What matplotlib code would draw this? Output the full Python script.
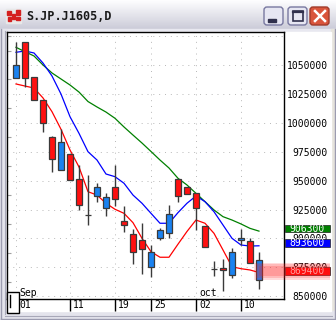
import numpy as np
import matplotlib
matplotlib.use("Agg")
from matplotlib import pyplot as plt
from matplotlib.patches import Rectangle, FancyBboxPatch
from matplotlib.ticker import MultipleLocator
import matplotlib.transforms as mtransforms

title = "S.JP.J1605,D"

# daily bars (Sep 01 .. Oct 12)
opens = [1039000, 1069600, 1039400, 1019700, 987700, 958900, 972700, 951100,
         920200, 936900, 926000, 944200, 914700, 903600, 898400, 875000,
         900100, 904400, 951100, 944200, 939000, 910700, 873300, 874400,
         868100, 898400, 897500, 864000]
highs = [1069600, 1070000, 1039800, 1019700, 988300, 994400, 972700, 963500,
         954800, 947700, 939500, 963500, 928000, 907900, 913600, 894000,
         908700, 928900, 951100, 944200, 939000, 910700, 880700, 881900,
         891400, 907900, 900100, 888500]
lows = [1039000, 1031200, 1019500, 992300, 957200, 958900, 950200, 924600,
        911600, 931800, 919600, 928300, 905800, 877600, 869000, 866900,
        898600, 900100, 931200, 938200, 907300, 892300, 867400, 854800,
        865500, 894000, 878500, 856000]
closes = [1050000, 1039000, 1019500, 999600, 968400, 983100, 950200, 928600,
          920200, 944200, 935800, 934300, 911200, 888300, 891100, 888300,
          907000, 921100, 936900, 938200, 926600, 892300, 873300, 872700,
          888000, 900600, 878500, 881300]

# moving averages
ma_red = [1033600, 1031800, 1030100, 1021500, 1009600, 994400, 976500, 961800,
          940400, 937500, 930400, 925200, 921700, 913600, 900100, 888500,
          883700, 883700, 895000, 906000, 915900, 913100, 904400, 890000,
          875500, 873800, 872700, 870500]
ma_blue = [1061000, 1062100, 1060400, 1051700, 1040500, 1024900, 1005300, 990900,
           975000, 967800, 955700, 953400, 947700, 937500, 930400, 921700,
           913100, 913100, 922300, 930400, 936700, 931800, 923100, 911600,
           900100, 894300, 893400, 893600]
ma_green = [1065300, 1061500, 1057800, 1050000, 1043100, 1037900, 1032700, 1026600,
            1018400, 1013700, 1009300, 1003900, 996400, 989400, 982500, 975200,
            967800, 960900, 952000, 946200, 939000, 931800, 924600, 918800,
            915900, 912500, 908700, 906300]
tag_values = [906300, 893600, 869400]
tag_colors = ["#008000", "#0000ff", "#ff0000"]

tick_pos = [0, 6, 11, 15, 20, 25]
tick_labels = ["01", "11", "19", "25", "02", "10"]
month_pos = [0, 20]
month_labels = ["Sep", "oct"]
price_ticks = list(range(850000, 1050001, 25000))
grid_levels = list(range(850000, 1075001, 25000))

W, H = 336, 320
fig = plt.figure(figsize=(W / 100, H / 100), dpi=100)

# ---- window chrome ----
bg = fig.add_axes([0, 0, 1, 1], zorder=0)
bg.axis("off")
bg.add_patch(Rectangle((0, 0), W, H, color="#dcdce6"))
g = np.linspace(0, 1, 30)[:, None, None]
c_top = np.array([0.995, 0.995, 1.0])
c_bot = np.array([0.80, 0.80, 0.85])
bg.imshow(c_top + (c_bot - c_top) * g * np.ones((1, 2, 1)), extent=(0, W, 29, 0),
          aspect="auto", zorder=1, interpolation="bilinear")
bg.add_patch(Rectangle((0, 29), W, 3, color="#e8e8f0", zorder=2))
bg.add_patch(Rectangle((0, 29), 7, H, color="#e4e4ec", zorder=2))
bg.add_patch(Rectangle((331, 29), 5, H, color="#e6e3dc", zorder=2))
bg.add_patch(Rectangle((0, 311), W, 9, color="#e4e4ec", zorder=2))
bg.plot([1, 1], [29, 319], color="#9c9cb0", lw=1, zorder=3)
bg.plot([4.5, 4.5], [31, 314], color="#a8a8b8", lw=0.8, zorder=3)
bg.plot([335, 335], [29, 319], color="#9c9cb0", lw=1, zorder=3)
bg.plot([1, 335], [318.5, 318.5], color="#9c9cb0", lw=1, zorder=3)
bg.plot([4.5, 332], [315.5, 315.5], color="#a8a8b8", lw=0.8, zorder=3)
bg.add_patch(Rectangle((7, 32), 324, 279, color="white", zorder=3))

# icon
bg.add_patch(Rectangle((6, 9), 15, 14, color="#e8e8e8", zorder=4))
for (ix, iy, iw, ih) in [(7, 11, 4, 4), (12, 14, 3, 5), (16, 10, 4, 5), (8, 17, 3, 4), (16, 17, 4, 3)]:
    bg.add_patch(Rectangle((ix, iy), iw, ih, color="#d42020", zorder=5))
bg.text(26, 16.5, title, fontsize=8.5, family="DejaVu Sans Mono", fontweight="bold",
        color="#1a1a1a", va="center", ha="left", zorder=5)

# buttons
for bx, fc, ec in [(263, "#e6e6f2", "#7878a0"), (287, "#e6e6f2", "#7878a0"), (309, "#d9553c", "#a03a2a")]:
    bg.add_patch(FancyBboxPatch((bx + 1, 7), 19, 18, boxstyle="round,pad=0,rounding_size=3",
                                fc=fc, ec=ec, lw=1, zorder=5))
bg.add_patch(Rectangle((268, 19), 8, 2.5, color="#30304c", zorder=6))
bg.add_patch(Rectangle((292.5, 11), 10, 10, fill=False, ec="#30304c", lw=1.2, zorder=6))
bg.plot([292.5, 302.5], [11.8, 11.8], color="#30304c", lw=1.6, zorder=6)
bg.plot([315, 325], [11, 21], color="white", lw=1.8, zorder=6)
bg.plot([315, 325], [21, 11], color="white", lw=1.8, zorder=6)
bg.set_xlim(0, W)
bg.set_ylim(H, 0)

# ---- price chart ----
ax = fig.add_axes([7 / W, (H - 299) / H, 277 / W, 267 / H], zorder=2)
ax.set_facecolor("white")
x = np.arange(len(opens))
o = np.array(opens); c = np.array(closes)

for lvl in grid_levels:
    ax.axhline(lvl, color="#b8b8b8", lw=0.7, ls=(0, (1, 5)), zorder=0)
for p in tick_pos:
    ax.axvline(p, color="#b8b8b8", lw=0.7, ls=(0, (1, 5)), zorder=0)

ax.plot(x, ma_green, color="#008000", lw=0.9, zorder=2)
ax.plot(x, ma_blue, color="#0000ff", lw=0.9, zorder=2)
ax.plot(x, ma_red, color="#ff0000", lw=0.9, zorder=2)

ax.vlines(x, lows, highs, color="#3a3a3a", lw=1.0, zorder=3)
body_col = np.where(c > o, "#1a82f0", np.where(c < o, "#ff1010", "#3a3a3a"))
ax.bar(x, np.abs(c - o), bottom=np.minimum(o, c), width=0.58, color=body_col,
       edgecolor="#3a3a3a", linewidth=0.9, zorder=4)

ax.set_xlim(-1.0, 29.78)
ax.set_ylim(847580, 1078550)
for s in ax.spines.values():
    s.set_color("black")
    s.set_linewidth(1.0)

ax.set_xticks([])
ax.set_yticks(price_ticks)
ax.set_yticklabels([str(v) for v in price_ticks])
ax.tick_params(axis="y", which="major", left=False, right=True, labelleft=False,
               labelright=True, length=0, pad=31.7, labelsize=7)
for lab in ax.get_yticklabels():
    lab.set_horizontalalignment("right")
    lab.set_family("DejaVu Sans Mono")
ax.yaxis.set_minor_locator(MultipleLocator(12500))
ax.tick_params(axis="y", which="minor", left=True, right=False, direction="in",
               length=3, color="#a0a0a0", width=0.8)

# x ticks below the axis, labels to the right of each tick
xt = ax.get_xaxis_transform()
ax.vlines(tick_pos, -12 / 267, 0, transform=xt, color="black", lw=1, clip_on=False)
lab_tr = mtransforms.offset_copy(xt, fig=fig, x=3, y=0, units="dots")
for p, t in zip(tick_pos, tick_labels):
    ax.text(p, -6 / 267, t, transform=lab_tr, ha="left", va="center", fontsize=7,
            family="DejaVu Sans Mono", color="black", clip_on=False)
mon_tr = mtransforms.offset_copy(xt, fig=fig, x=3, y=1, units="dots")
for p, t in zip(month_pos, month_labels):
    ax.text(p, 0, t, transform=mon_tr, ha="left", va="bottom", fontsize=7,
            family="DejaVu Sans Mono", color="black")

# last-value tags on the price scale
yt = ax.get_yaxis_transform()
box_h = 7.8 / 1.156 * 1000
for v, col in zip(tag_values, tag_colors):
    yc = v + 2200
    ax.add_patch(Rectangle((1.002, yc - box_h / 2), 0.163, box_h, transform=yt,
                           fc=col, ec="#202020", lw=0.5, clip_on=False, zorder=10))
    ax.text(1.0835, yc, str(v), transform=yt, ha="center", va="center", fontsize=7,
            family="DejaVu Sans Mono", color="white", clip_on=False, zorder=11)

# glow behind the red tag
gy = tag_values[2] + 2200
for x0, hpx, a in [(0.890, 17, 0.16), (0.900, 14, 0.18), (0.910, 10, 0.2)]:
    hh = hpx / 1.156 * 1000
    ax.add_patch(Rectangle((x0, gy - hh / 2), 1.166 - x0, hh, transform=yt,
                           fc="#ff2020", ec="none", alpha=a, clip_on=False, zorder=12))

# ---- overlay (scroll box at bottom-left) ----
ov = fig.add_axes([0, 0, 1, 1], zorder=5)
ov.axis("off")
ov.patch.set_alpha(0)
ov.add_patch(Rectangle((7, 291.5), 12, 21.5, fc="white", ec="black", lw=1))
ov.plot([9.5, 9.5], [295, 307], color="black", lw=1)
ov.set_xlim(0, W)
ov.set_ylim(H, 0)

fig.savefig("out.png", dpi=100)
